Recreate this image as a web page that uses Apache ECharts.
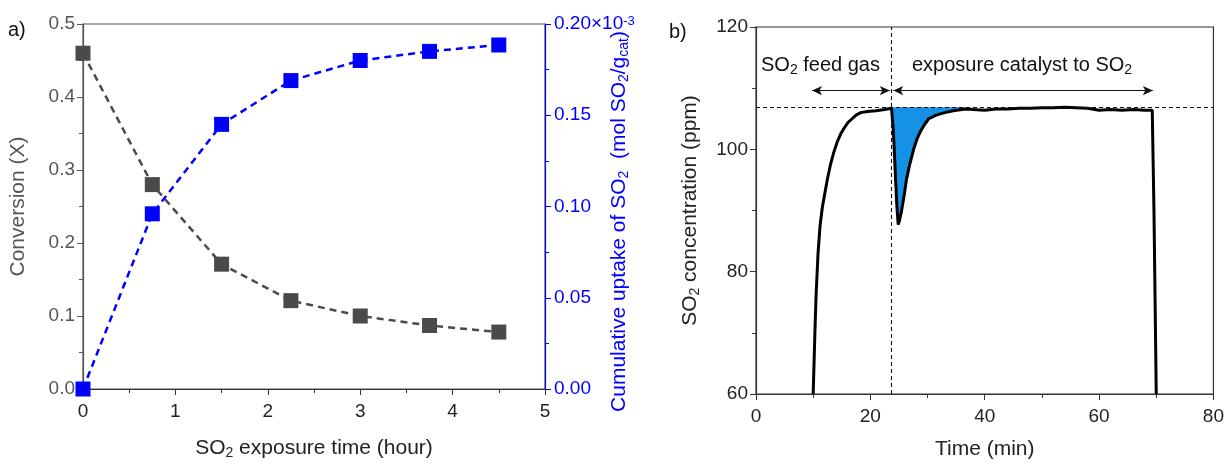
<!DOCTYPE html>
<html><head><meta charset="utf-8">
<script src="https://cdn.jsdelivr.net/npm/echarts@6/dist/echarts.min.js"></script>
<style>html,body{margin:0;padding:0;background:#fff}#c{width:1227px;height:465px}</style>
</head><body><div id="c"></div>
<script>
// Panel a
const hours = [0, 0.75, 1.5, 2.25, 3, 3.75, 4.5];
const conversion = [0.46, 0.28, 0.171, 0.121, 0.100, 0.087, 0.078];
const uptake = [0.0, 0.096, 0.145, 0.169, 0.180, 0.185, 0.1885]; // x10^-3 mol SO2/g_cat
// Panel b
const timeMin = [10.0, 10.3, 10.5, 10.85, 11.2, 11.6, 12.0, 12.5, 13.0, 13.6, 14.2, 14.8, 15.5, 16.1, 16.8, 17.5, 18.3, 19.5, 21.0, 22.5, 23.7,
  24.0, 24.2, 24.4, 24.65, 24.87, 25.1, 25.45, 25.9, 26.3, 26.9, 27.6, 28.2, 28.75, 29.5, 30.2, 31.5, 33.0, 34.5, 36.0, 37.0,
  38.0, 40.0, 42.0, 44.0, 46.0, 48.0, 50.0, 52.0, 54.0, 56.0, 58.0, 60.0, 62.0, 64.0, 66.0, 68.0, 69.3, 69.6, 70.0];
const so2ppm = [60, 70, 76, 83, 87.5, 90.5, 92.6, 95.2, 97.4, 99.5, 101.2, 102.5, 103.6, 104.4, 105.0, 105.6, 106.0, 106.2, 106.3, 106.5, 106.7,
  103.3, 99.5, 95.3, 90.5, 87.7, 88.4, 89.9, 92.4, 95.0, 97.6, 100.1, 101.8, 102.9, 104.1, 105.0, 105.6, 106.0, 106.3, 106.5, 106.6,
  106.5, 106.4, 106.6, 106.6, 106.7, 106.7, 106.8, 106.8, 106.9, 106.8, 106.7, 106.4, 106.5, 106.4, 106.5, 106.4, 106.4, 90, 60];
const feedLevel = 106.9;      // horizontal dashed reference
const switchTime = 23.7;      // vertical dashed line
const fillRange = [23.7, 37.0];
const arrowY = 109.6;
const arrowFeed = [9.8, 23.4];
const arrowExposure = [24.0, 69.4];

const font = 'Arial, "Liberation Sans", sans-serif';
const TICK = 19, NAME = 21;
const subStyle = (c) => ({ sub: { fontSize: 14, verticalAlign: 'bottom', lineHeight: 13, color: c, fill: c, fontFamily: font } });

const convData = hours.map((h, i) => [h, conversion[i]]);
const upData = hours.map((h, i) => [h, uptake[i]]);
const curve = timeMin.map((t, i) => [t, so2ppm[i]]);
const fillBase = timeMin.map((t, i) => [t, so2ppm[i]]).filter(p => p[0] >= fillRange[0] && p[0] <= fillRange[1]);

const chart = echarts.init(document.getElementById('c'), null, { renderer: 'canvas' });
const gray = '#555555';
const dark = '#222222';
const axisCommon = (c) => ({
  axisLine: { show: true, lineStyle: { color: c, width: 1.2 } },
  axisTick: { show: true, length: 6, lineStyle: { color: c } },
  minorTick: { show: true, splitNumber: 2, length: 4, lineStyle: { color: c } },
  splitLine: { show: false }
});
const option = {
  animation: false,
  textStyle: { fontFamily: font },
  grid: [
    { left: 83, right: 682, top: 24, bottom: 70, show: true, borderColor: gray, borderWidth: 1.2, backgroundColor: 'transparent' },
    { left: 756, right: 10, top: 27, bottom: 67, show: true, borderColor: '#333', borderWidth: 1.2, backgroundColor: 'transparent' }
  ],
  xAxis: [
    Object.assign({ type: 'value', gridIndex: 0, min: 0, max: 5, interval: 1,
      name: 'SO{sub|2} exposure time (hour)', nameLocation: 'middle', nameGap: 47, nameMoveOverlap: false,
      nameTextStyle: { fontSize: NAME, color: dark, lineHeight: 24, rich: subStyle(dark) },
      axisLabel: { fontSize: TICK, color: dark, margin: 13 } }, axisCommon('#333')),
    Object.assign({ type: 'value', gridIndex: 1, min: 0, max: 80, interval: 20,
      name: 'Time (min)', nameLocation: 'middle', nameGap: 45, nameMoveOverlap: false,
      nameTextStyle: { fontSize: NAME, color: dark },
      axisLabel: { fontSize: TICK, color: dark, margin: 13 } }, axisCommon('#333'))
  ],
  yAxis: [
    Object.assign({ type: 'value', gridIndex: 0, min: 0, max: 0.5, interval: 0.1, position: 'left',
      name: 'Conversion (X)', nameLocation: 'middle', nameGap: 54, nameRotate: 90, nameMoveOverlap: false,
      nameTextStyle: { fontSize: NAME, color: gray },
      axisLabel: { fontSize: TICK, color: gray, margin: 8, formatter: v => v.toFixed(1) } }, axisCommon(gray)),
    Object.assign({ type: 'value', gridIndex: 0, min: 0, max: 0.2, interval: 0.05, position: 'right',
      name: 'Cumulative uptake of SO{sub|2}  (mol SO{sub|2}/g{sub|cat})', nameLocation: 'middle', nameGap: 62, nameRotate: 90, nameMoveOverlap: false,
      nameTextStyle: { fontSize: NAME, color: '#0000ff', lineHeight: 24, padding: [0, 30, 0, 0], rich: subStyle('#0000ff') },
      axisLabel: { fontSize: TICK, color: '#0000ff', margin: 9,
        formatter: v => Math.abs(v - 0.2) < 1e-9 ? '0.20×10{sup|-3}' : v.toFixed(2),
        rich: { sup: { fontSize: 13, verticalAlign: 'top', lineHeight: 13, color: '#0000ff' } } } }, axisCommon('#0000ff')),
    Object.assign({ type: 'value', gridIndex: 1, min: 60, max: 120, interval: 20,
      name: 'SO{sub|2} concentration (ppm)', nameLocation: 'middle', nameGap: 54, nameRotate: 90, nameMoveOverlap: false,
      nameTextStyle: { fontSize: NAME, color: dark, lineHeight: 24, rich: subStyle(dark) },
      axisLabel: { fontSize: TICK, color: dark, margin: 8 } }, axisCommon('#333'))
  ],
  series: [
    { type: 'line', xAxisIndex: 0, yAxisIndex: 0, data: convData, symbol: 'rect', symbolSize: 15,
      itemStyle: { color: '#4a4a4a' }, lineStyle: { color: '#4a4a4a', width: 2.5, type: [7, 5] }, z: 3 },
    { type: 'line', xAxisIndex: 0, yAxisIndex: 1, data: upData, symbol: 'rect', symbolSize: 15,
      itemStyle: { color: '#0000ff' }, lineStyle: { color: '#0000ff', width: 2.5, type: [7, 5] }, z: 4 },
    { type: 'custom', xAxisIndex: 1, yAxisIndex: 2, data: fillBase, encode: { x: 0, y: 1 }, z: 1, silent: true,
      renderItem: (params, api) => {
        if (params.dataIndex !== 0) return null;
        const lower = fillBase.map(p => api.coord(p));
        const upper = fillBase.slice().reverse().map(p => api.coord([p[0], feedLevel]));
        return { type: 'polygon', shape: { points: lower.concat(upper) }, style: { fill: '#1592e6' } };
      } },
    { type: 'line', xAxisIndex: 1, yAxisIndex: 2, data: curve, symbol: 'none',
      lineStyle: { color: '#000', width: 3 }, z: 3,
      markLine: {
        silent: true, symbol: ['none', 'none'], animation: false, label: { show: false },
        lineStyle: { color: '#111', width: 1.1, type: [4, 3] },
        data: [ { yAxis: feedLevel }, { xAxis: switchTime } ]
      } },
    { type: 'line', xAxisIndex: 1, yAxisIndex: 2, data: [], symbol: 'none', z: 5,
      markLine: {
        silent: true, symbol: ['arrow', 'arrow'], symbolSize: [7, 10], animation: false, label: { show: false },
        lineStyle: { color: '#111', width: 1.2, type: 'solid' },
        data: [
          [{ coord: [arrowFeed[0], arrowY] }, { coord: [arrowFeed[1], arrowY] }],
          [{ coord: [arrowExposure[0], arrowY] }, { coord: [arrowExposure[1], arrowY] }]
        ]
      } }
  ],
  graphic: [
    { type: 'text', left: 8, top: 20, style: { text: 'a)', fontSize: 20, fill: '#111', fontFamily: font } },
    { type: 'text', left: 669, top: 22, style: { text: 'b)', fontSize: 20, fill: '#111', fontFamily: font } },
    { type: 'text', left: 761, top: 53, style: { text: 'SO{sub|2} feed gas', fontSize: 20, lineHeight: 24, fill: '#111', fontFamily: font,
        rich: subStyle('#111') } },
    { type: 'text', left: 912, top: 53, style: { text: 'exposure catalyst to SO{sub|2}', fontSize: 20, lineHeight: 24, fill: '#111', fontFamily: font,
        rich: subStyle('#111') } }
  ]
};
chart.setOption(option);
</script></body></html>
